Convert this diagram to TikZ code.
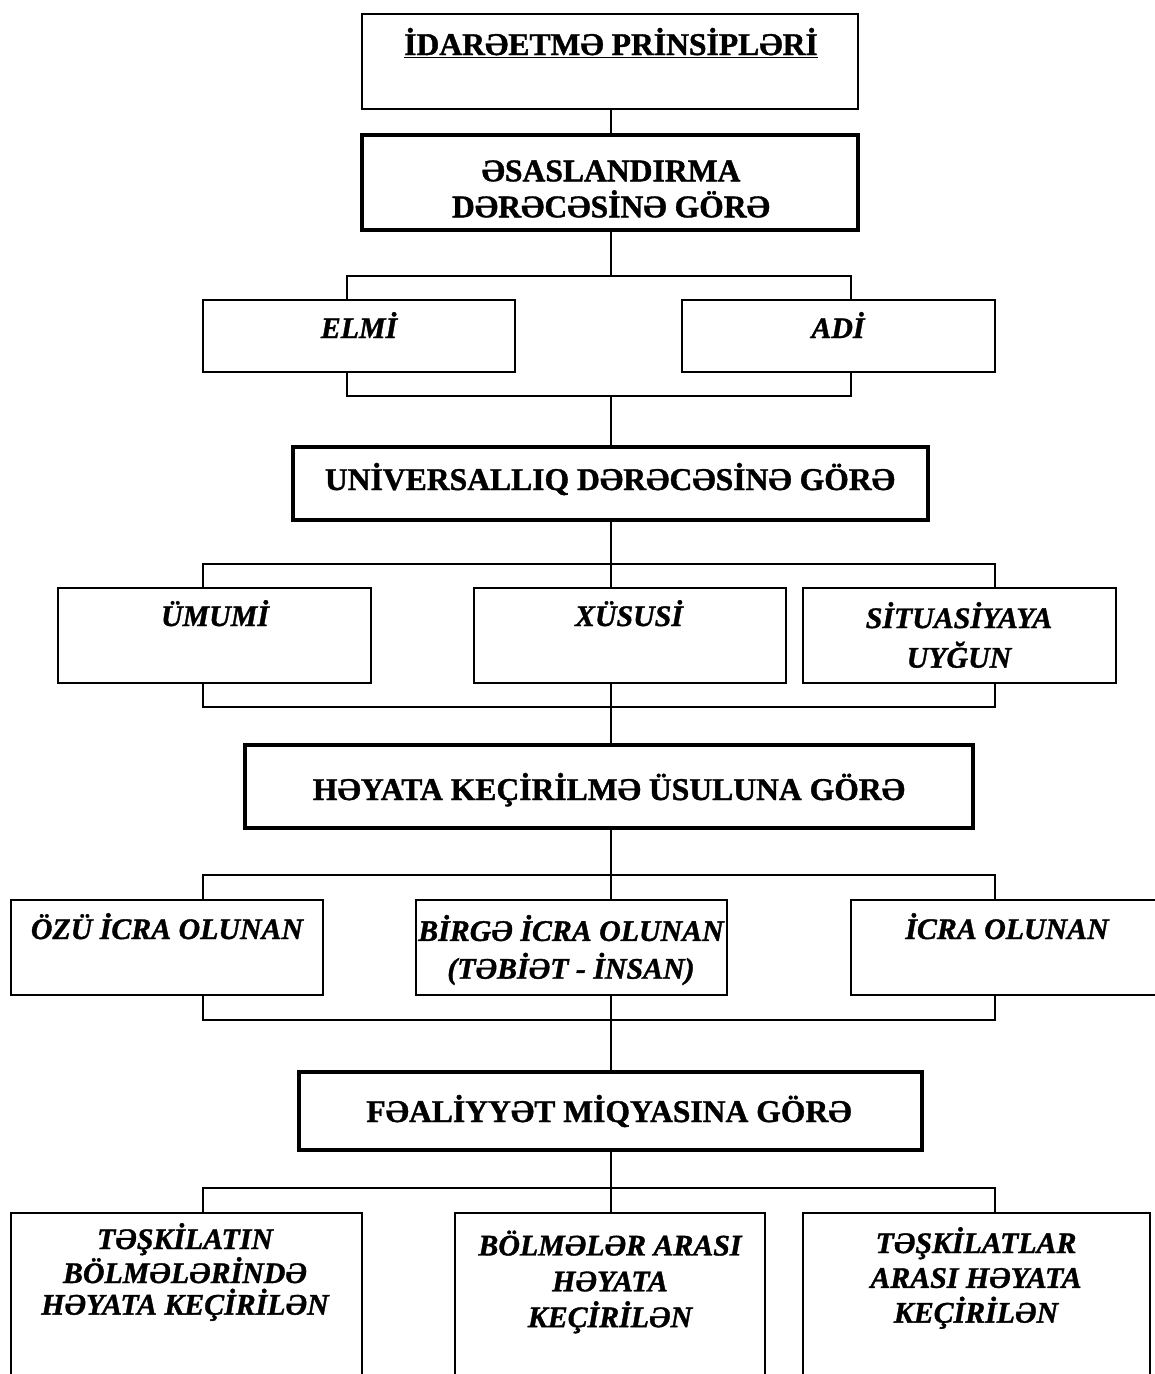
\documentclass[tikz,border=0pt]{standalone}
\usepackage{fontspec}
\setmainfont{Liberation Serif}[BoldFeatures={FakeBold=1.2}, BoldItalicFeatures={FakeBold=1.2}]
\usetikzlibrary{fit,positioning}

\begin{document}
\begin{tikzpicture}[x=0.02cm, y=-0.02cm,
		box/.style={draw, line width=1.1pt, inner sep=0pt},
		headbox/.style={box, line width=2.8pt},
		head/.style={font=\fontsize{18}{20.5}\selectfont\bfseries, align=center, inner sep=0pt},
		kind/.style={font=\fontsize{17}{18}\selectfont\bfseries\itshape, align=center, inner sep=0pt},
		conn/.style={line width=1pt}]
		\useasboundingbox (0,0) rectangle (1155,1374);

		% boxes
		\node[box, fit={(362,14) (858,109)}] (prin) {};
		\node[headbox, fit={(362,135) (858,230)}] (esas) {};
		\node[box, fit={(203,300) (515,372)}] (elmi) {};
		\node[box, fit={(682,300) (995,372)}] (adi) {};
		\node[headbox, fit={(293,447) (928,520)}] (univ) {};
		\node[box, fit={(58,588) (371,683)}] (umumi) {};
		\node[box, fit={(474,588) (786,683)}] (xususi) {};
		\node[box, fit={(803,588) (1116,683)}] (situ) {};
		\node[headbox, fit={(245,745) (973,828)}] (usul) {};
		\node[box, fit={(11,900) (323,995)}] (ozu) {};
		\node[box, fit={(416,900) (727,995)}] (birge) {};
		\node[box, fit={(851,900) (1163,995)}] (icra) {};
		\node[headbox, fit={(299,1072) (922,1150)}] (miqyas) {};
		\node[box, fit={(11,1213) (362,1400)}] (bolme) {};
		\node[box, fit={(455,1213) (765,1400)}] (arasi) {};
		\node[box, fit={(803,1213) (1150,1400)}] (teskara) {};

		% texts
		\node[head, anchor=base] (printext) at (611,55) {\underline{İDARƏETMƏ PRİNSİPLƏRİ}};
		\node[head] (esastext) at (611,189) {ƏSASLANDIRMA\\DƏRƏCƏSİNƏ GÖRƏ};
		\node[kind, anchor=base] (elmitext) at (359,338) {ELMİ};
		\node[kind, anchor=base] (aditext) at (838,338) {ADİ};
		\node[head, anchor=base] (univtext) at (610,490) {UNİVERSALLIQ DƏRƏCƏSİNƏ GÖRƏ};
		\node[kind, anchor=base] (umumitext) at (215,626) {ÜMUMİ};
		\node[kind, anchor=base] (xususitext) at (629,626) {XÜSUSİ};
		\node[kind, font=\fontsize{17}{22.5}\selectfont\bfseries\itshape] (situtext) at (959,635) {SİTUASİYAYA\\UYĞUN};
		\node[head, anchor=base] (usultext) at (609,800) {HƏYATA KEÇİRİLMƏ ÜSULUNA GÖRƏ};
		\node[kind, anchor=base] (ozutext) at (167,939) {ÖZÜ İCRA OLUNAN};
		\node[kind, font=\fontsize{17}{21.5}\selectfont\bfseries\itshape] (birgetext) at (571,950) {BİRGƏ İCRA OLUNAN\\(TƏBİƏT - İNSAN)};
		\node[kind, anchor=base] (icratext) at (1007,939) {İCRA OLUNAN};
		\node[head, anchor=base] (miqyastext) at (609,1122) {FƏALİYYƏT MİQYASINA GÖRƏ};
		\node[kind] (bolmetext) at (185,1272) {TƏŞKİLATIN\\BÖLMƏLƏRİNDƏ\\HƏYATA KEÇİRİLƏN};
		\node[kind, font=\fontsize{17}{20.4}\selectfont\bfseries\itshape] (arasitext) at (610,1282) {BÖLMƏLƏR ARASI\\HƏYATA\\KEÇİRİLƏN};
		\node[kind, font=\fontsize{17}{19.8}\selectfont\bfseries\itshape] (teskaratext) at (976,1278) {TƏŞKİLATLAR\\ARASI HƏYATA\\KEÇİRİLƏN};

		% fork points
		\coordinate (f1l) at (347,276);   \coordinate (f1r) at (851,276);
		\coordinate (g1l) at (347,396);   \coordinate (g1r) at (851,396);
		\coordinate (f2l) at (203,564);   \coordinate (f2r) at (995,564);
		\coordinate (g2l) at (203,707);   \coordinate (g2r) at (995,707);
		\coordinate (f3l) at (203,875);   \coordinate (f3r) at (995,875);
		\coordinate (g3l) at (203,1020);  \coordinate (g3r) at (995,1020);
		\coordinate (f4l) at (203,1188);  \coordinate (f4r) at (995,1188);

		% connectors
		\draw[conn] (prin.south -| 611,0) -- (esas.north -| 611,0);
		\draw[conn] (esas.south -| 611,0) -- (f1l -| 611,0);
		\draw[conn] (elmi.north -| f1l) -- (f1l) -- (f1r) -- (adi.north -| f1r);
		\draw[conn] (elmi.south -| g1l) -- (g1l) -- (g1r) -- (adi.south -| g1r);
		\draw[conn] (g1l -| 611,0) -- (univ.north -| 611,0);

		\draw[conn] (univ.south -| 611,0) -- (f2l -| 611,0);
		\draw[conn] (umumi.north -| f2l) -- (f2l) -- (f2r) -- (situ.north -| f2r);
		\draw[conn] (f2l -| 611,0) -- (xususi.north -| 611,0);
		\draw[conn] (umumi.south -| g2l) -- (g2l) -- (g2r) -- (situ.south -| g2r);
		\draw[conn] (xususi.south -| 611,0) -- (usul.north -| 611,0);

		\draw[conn] (usul.south -| 611,0) -- (birge.north -| 611,0);
		\draw[conn] (ozu.north -| f3l) -- (f3l) -- (f3r) -- (icra.north -| f3r);
		\draw[conn] (ozu.south -| g3l) -- (g3l) -- (g3r) -- (icra.south -| g3r);
		\draw[conn] (birge.south -| 611,0) -- (miqyas.north -| 611,0);

		\draw[conn] (miqyas.south -| 611,0) -- (arasi.north -| 611,0);
		\draw[conn] (bolme.north -| f4l) -- (f4l) -- (f4r) -- (teskara.north -| f4r);
	\end{tikzpicture}
\end{document}
